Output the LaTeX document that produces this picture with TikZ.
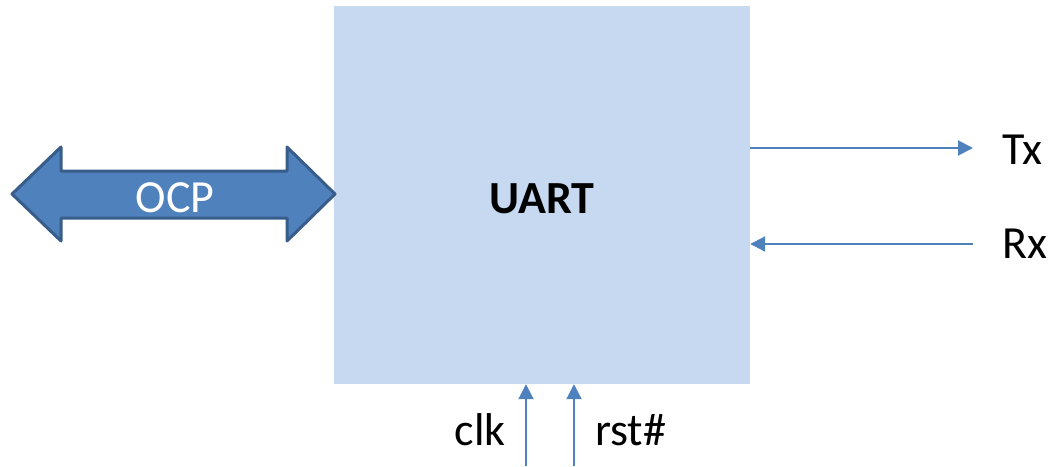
\documentclass[tikz,border=0pt]{standalone}
\usepackage{fontspec}
\setmainfont{Carlito}
\usetikzlibrary{arrows.meta}
\definecolor{blockfill}{HTML}{C6D9F1}
\definecolor{sig}{HTML}{4F81BD}
\definecolor{sigdark}{HTML}{385D8A}
\tikzset{
  lbl/.style={font=\fontsize{46}{52}\selectfont, inner sep=0pt},
  wire/.style={draw=sig, line width=2pt, -{Triangle[length=15pt,width=15pt]}},
}
\begin{document}
\begin{tikzpicture}[x=1pt,y=-1pt]
\useasboundingbox (0,0) rectangle (1052,466);

% UART block
\node[fill=blockfill, minimum width=416pt, minimum height=378pt, inner sep=0pt]
  (box) at (542,195) {};
\node[lbl, font=\fontsize{46}{52}\selectfont\bfseries, anchor=base] (uart) at (542,213) {UART};

% OCP bus: double-headed block arrow
\draw[fill=sig, draw=sigdark, line width=3pt, line join=round]
  (12,194) -- (61,147) -- (61,171) -- (287,171) -- (287,147) -- (335,194)
  -- (287,241) -- (287,218) -- (61,218) -- (61,241) -- cycle;
\node[lbl, text=white, anchor=base] (ocp) at (175,212) {OCP};

% Serial lines
\coordinate (txend) at (973,148);
\coordinate (rxstart) at (973,244);
\node[lbl, anchor=base west] (tx) at (1002,164) {Tx};
\node[lbl, anchor=base west] (rx) at (1002,258) {Rx};
\draw[wire] (box.east |- txend) -- (txend);
\draw[wire] (rxstart) -- (box.east |- rxstart);

% Clock and reset inputs
\coordinate (clkstart) at (526,466);
\coordinate (rststart) at (574,466);
\node[lbl, anchor=base east] (clk) at (506,445) {clk};
\node[lbl, anchor=base west] (rst) at (595,445) {rst\#};
\draw[wire] (clkstart) -- (box.south -| clkstart);
\draw[wire] (rststart) -- (box.south -| rststart);
\end{tikzpicture}
\end{document}
